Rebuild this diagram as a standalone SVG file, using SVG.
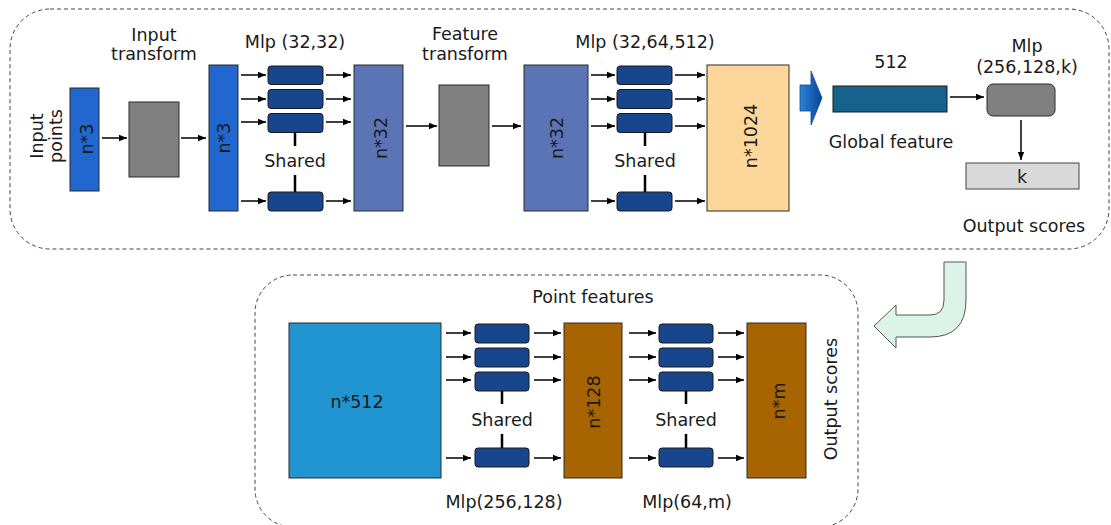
<svg xmlns="http://www.w3.org/2000/svg" width="1111" height="525" viewBox="0 0 1111 525">
<defs>
<style>
text{font-family:"DejaVu Sans","Liberation Sans",sans-serif;font-size:17.5px;fill:#1a1a1a}
.c{text-anchor:middle}
.frame{fill:none;stroke:#444;stroke-width:1;stroke-dasharray:4 3}
.box{stroke:#2a2a2a;stroke-width:1}
.blue{fill:#2167cf}
.gray{fill:#808080}
.slate{fill:#5b74b6}
.mlp{fill:#18468d;stroke:#1a1a1a;stroke-width:1}
.orange{fill:#fdd69a}
.brown{fill:#a86400}
.arr{stroke:#000;stroke-width:1.5;fill:none;marker-end:url(#ah)}
.sh{stroke:#000;stroke-width:2.5}
</style>
<marker id="ah" viewBox="0 0 10 10" refX="10" refY="5" markerWidth="8" markerHeight="8" markerUnits="userSpaceOnUse" orient="auto"><path d="M0,1 L10,5 L0,9 z" fill="#000"/></marker>
<linearGradient id="bg" x1="0" y1="0" x2="1" y2="0"><stop offset="0" stop-color="#2a82da"/><stop offset="1" stop-color="#0a4595"/></linearGradient>
</defs>

<g id="frames">
<rect class="frame" x="10" y="9" width="1099" height="240" rx="40"/>
<rect class="frame" x="255" y="275" width="603" height="252" rx="38"/>
</g>

<g id="input-points">
<text transform="translate(43,136) rotate(-90)" class="c">Input</text>
<text transform="translate(62,136) rotate(-90)" class="c">points</text>
<rect class="box blue" x="70" y="88" width="29" height="103"/>
<text transform="translate(93,139) rotate(-90)" class="c">n*3</text>
</g>

<g id="input-transform">
<text x="154" y="41" class="c">Input</text>
<text x="154" y="60" class="c">transform</text>
<rect class="box gray" x="129" y="102" width="50" height="75"/>
</g>

<g id="n3">
<rect class="box blue" x="209" y="65" width="29" height="146"/>
<text transform="translate(230,138) rotate(-90)" class="c">n*3</text>
</g>

<g id="mlp1">
<text x="295" y="48" class="c">Mlp (32,32)</text>
<rect class="mlp" x="268" y="66" width="55" height="18.5" rx="3"/>
<rect class="mlp" x="268" y="89.5" width="55" height="19" rx="3"/>
<rect class="mlp" x="268" y="113.5" width="55" height="19" rx="3"/>
<rect class="mlp" x="268" y="192" width="55" height="19" rx="3"/>
<line class="sh" x1="295" y1="133" x2="295" y2="146"/>
<text x="295" y="167" class="c">Shared</text>
<line class="sh" x1="295" y1="175" x2="295" y2="192"/>
</g>

<g id="n32a">
<rect class="box slate" x="354" y="65" width="49" height="146"/>
<text transform="translate(387,138) rotate(-90)" class="c">n*32</text>
</g>

<g id="feature-transform">
<text x="465" y="40" class="c">Feature</text>
<text x="465" y="60" class="c">transform</text>
<rect class="box gray" x="439" y="85" width="50" height="81"/>
</g>

<g id="n32b">
<rect class="box slate" x="524" y="65" width="64" height="146"/>
<text transform="translate(563,138) rotate(-90)" class="c">n*32</text>
</g>

<g id="mlp2">
<text x="645" y="48" class="c">Mlp (32,64,512)</text>
<rect class="mlp" x="617" y="66" width="55" height="18.5" rx="3"/>
<rect class="mlp" x="617" y="89.5" width="55" height="19" rx="3"/>
<rect class="mlp" x="617" y="113.5" width="55" height="19" rx="3"/>
<rect class="mlp" x="617" y="192" width="55" height="19" rx="3"/>
<line class="sh" x1="645" y1="133" x2="645" y2="146"/>
<text x="645" y="167" class="c">Shared</text>
<line class="sh" x1="645" y1="175" x2="645" y2="192"/>
</g>

<g id="n1024">
<rect class="box orange" x="707" y="65" width="82" height="146"/>
<text transform="translate(757,136) rotate(-90)" class="c">n*1024</text>
</g>

<g id="maxpool">
<path d="M800,85 L811,85 L811,71 L822,98 L811,125 L811,111 L800,111 Z" fill="url(#bg)" stroke="#0b4a96" stroke-width="0.8"/>
</g>

<g id="global-feature">
<text x="891" y="68" class="c">512</text>
<rect x="833" y="86" width="114" height="26" fill="#17628c" stroke="#1a1a1a" stroke-width="1"/>
<text x="891" y="148" class="c">Global feature</text>
</g>

<g id="mlp3">
<text x="1027" y="52" class="c">Mlp</text>
<text x="1027" y="73" class="c">(256,128,k)</text>
<rect class="box gray" x="987" y="84" width="68" height="32" rx="6"/>
</g>

<g id="k-scores">
<rect x="966" y="163" width="113" height="26" fill="#d9d9d9" stroke="#444" stroke-width="1"/>
<text x="1022" y="183" class="c">k</text>
<text x="1024" y="232" class="c">Output scores</text>
</g>

<g id="bend-arrow">
<path d="M944,262 L966,262 L966,300 Q966,337 930,337 L896,337 L896,348 L874,326 L896,305 L896,315 L930,315 Q944,315 944,300 Z" fill="#dcf4e8" stroke="#555" stroke-width="1"/>
</g>

<g id="point-features">
<text x="593" y="303" class="c">Point features</text>
</g>

<g id="n512">
<rect x="289" y="323" width="152" height="155" fill="#2195d2" stroke="#2a2a2a" stroke-width="1"/>
<text x="357" y="408" class="c">n*512</text>
</g>

<g id="mlp4">
<rect class="mlp" x="475" y="324" width="54" height="19" rx="3"/>
<rect class="mlp" x="475" y="348" width="54" height="19" rx="3"/>
<rect class="mlp" x="475" y="372" width="54" height="19" rx="3"/>
<rect class="mlp" x="475" y="448" width="54" height="19" rx="3"/>
<line class="sh" x1="502" y1="391" x2="502" y2="404"/>
<text x="502" y="426" class="c">Shared</text>
<line class="sh" x1="502" y1="434" x2="502" y2="448"/>
<text x="504" y="508" class="c">Mlp(256,128)</text>
</g>

<g id="n128">
<rect class="box brown" x="564" y="323" width="58" height="155"/>
<text transform="translate(600,402) rotate(-90)" class="c">n*128</text>
</g>

<g id="mlp5">
<rect class="mlp" x="659" y="324" width="54" height="19" rx="3"/>
<rect class="mlp" x="659" y="348" width="54" height="19" rx="3"/>
<rect class="mlp" x="659" y="372" width="54" height="19" rx="3"/>
<rect class="mlp" x="659" y="448" width="54" height="19" rx="3"/>
<line class="sh" x1="686" y1="391" x2="686" y2="404"/>
<text x="686" y="426" class="c">Shared</text>
<line class="sh" x1="686" y1="434" x2="686" y2="448"/>
<text x="687" y="508" class="c">Mlp(64,m)</text>
</g>

<g id="nm">
<rect class="box brown" x="747" y="323" width="59" height="155"/>
<text transform="translate(785,401) rotate(-90)" class="c">n*m</text>
<text transform="translate(837,399) rotate(-90)" class="c">Output scores</text>
</g>

<g id="connectors">
<line class="arr" x1="102" y1="138" x2="127" y2="138"/>
<line class="arr" x1="181" y1="138" x2="206" y2="138"/>
<line class="arr" x1="241" y1="75" x2="266" y2="75"/>
<line class="arr" x1="241" y1="99" x2="266" y2="99"/>
<line class="arr" x1="241" y1="122" x2="266" y2="122"/>
<line class="arr" x1="241" y1="201" x2="266" y2="201"/>
<line class="arr" x1="326" y1="75" x2="351" y2="75"/>
<line class="arr" x1="326" y1="99" x2="351" y2="99"/>
<line class="arr" x1="326" y1="122" x2="351" y2="122"/>
<line class="arr" x1="326" y1="201" x2="351" y2="201"/>
<line class="arr" x1="406" y1="126" x2="437" y2="126"/>
<line class="arr" x1="492" y1="126" x2="521" y2="126"/>
<line class="arr" x1="591" y1="75" x2="615" y2="75"/>
<line class="arr" x1="591" y1="99" x2="615" y2="99"/>
<line class="arr" x1="591" y1="126" x2="615" y2="126"/>
<line class="arr" x1="591" y1="201" x2="615" y2="201"/>
<line class="arr" x1="675" y1="75" x2="705" y2="75"/>
<line class="arr" x1="675" y1="99" x2="705" y2="99"/>
<line class="arr" x1="675" y1="126" x2="705" y2="126"/>
<line class="arr" x1="675" y1="201" x2="705" y2="201"/>
<line class="arr" x1="950" y1="97" x2="984" y2="97"/>
<line class="arr" x1="1021" y1="120" x2="1021" y2="160"/>
<line class="arr" x1="446" y1="333" x2="471" y2="333"/>
<line class="arr" x1="446" y1="357" x2="471" y2="357"/>
<line class="arr" x1="446" y1="380" x2="471" y2="380"/>
<line class="arr" x1="446" y1="458" x2="471" y2="458"/>
<line class="arr" x1="534" y1="333" x2="561" y2="333"/>
<line class="arr" x1="534" y1="357" x2="561" y2="357"/>
<line class="arr" x1="534" y1="380" x2="561" y2="380"/>
<line class="arr" x1="534" y1="458" x2="561" y2="458"/>
<line class="arr" x1="629" y1="333" x2="656" y2="333"/>
<line class="arr" x1="629" y1="357" x2="656" y2="357"/>
<line class="arr" x1="629" y1="380" x2="656" y2="380"/>
<line class="arr" x1="629" y1="458" x2="656" y2="458"/>
<line class="arr" x1="718" y1="333" x2="744" y2="333"/>
<line class="arr" x1="718" y1="357" x2="744" y2="357"/>
<line class="arr" x1="718" y1="380" x2="744" y2="380"/>
<line class="arr" x1="718" y1="458" x2="744" y2="458"/>
</g>
</svg>
